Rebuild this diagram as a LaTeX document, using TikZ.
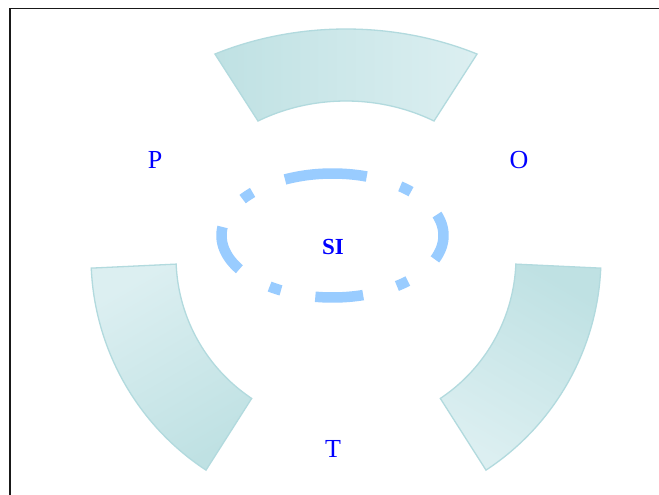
\documentclass[tikz,border=0pt]{standalone}
\usepackage{fontspec}
\setmainfont{Liberation Serif}
\definecolor{segdark}{RGB}{191,225,227}
\definecolor{seglight}{RGB}{220,239,241}
\definecolor{segedge}{RGB}{178,218,222}
\definecolor{ringblue}{RGB}{153,204,255}
\definecolor{labelblue}{RGB}{0,0,255}
\begin{document}
\begin{tikzpicture}[x=1pt,y=-1pt,
  segment/.style={draw=segedge, line width=1.3pt},
  lbl/.style={text=labelblue, font=\fontsize{26}{30}\selectfont, inner sep=0pt},
  ring/.style={draw=ringblue, line width=10.5pt, dash pattern=on 48pt off 35pt on 12pt off 35pt}]
\useasboundingbox (0,0) rectangle (659,495);
\clip (0,0) rectangle (659,495);
\fill[white] (0,0) rectangle (659,495);
% frame
\draw[line width=1.8pt, black!90] (10,8.5) rectangle (700,540);
% top segment
\path[segment, left color=segdark, right color=seglight]
  plot[domain=62.9:117.1, samples=60] ({346+287.7*cos(\x)},{257-228*sin(\x)})
  -- plot[domain=119.34:60.66, samples=60] ({346+179.6*cos(\x)},{257-156*sin(\x)})
  -- cycle;
% left segment
\path[segment, top color=seglight, bottom color=segdark, shading angle=30]
  plot[domain=182.5:236.7, samples=60] ({346+255*cos(\x)},{257-255*sin(\x)})
  -- plot[domain=236.3:182.4, samples=60] ({346+170*cos(\x)},{257-170*sin(\x)})
  -- cycle;
% right segment
\path[segment, top color=segdark, bottom color=seglight, shading angle=-30]
  plot[domain=-2.5:-56.7, samples=60] ({346+255*cos(\x)},{257-255*sin(\x)})
  -- plot[domain=-56.3:-2.4, samples=60] ({346+170*cos(\x)},{257-170*sin(\x)})
  -- cycle;
% dashed ring
\draw[ring] plot[domain=90:450, samples=240, smooth] ({332.5+111*cos(\x)},{235.5-62*sin(\x)});
% labels
\node[lbl] (P) at (155,160) {P};
\node[lbl] (O) at (519,160) {O};
\node[lbl] (T) at (333,449) {T};
\node[lbl, font=\bfseries\fontsize{23}{27}\selectfont] (SI) at (333,247) {SI};
\end{tikzpicture}
\end{document}
